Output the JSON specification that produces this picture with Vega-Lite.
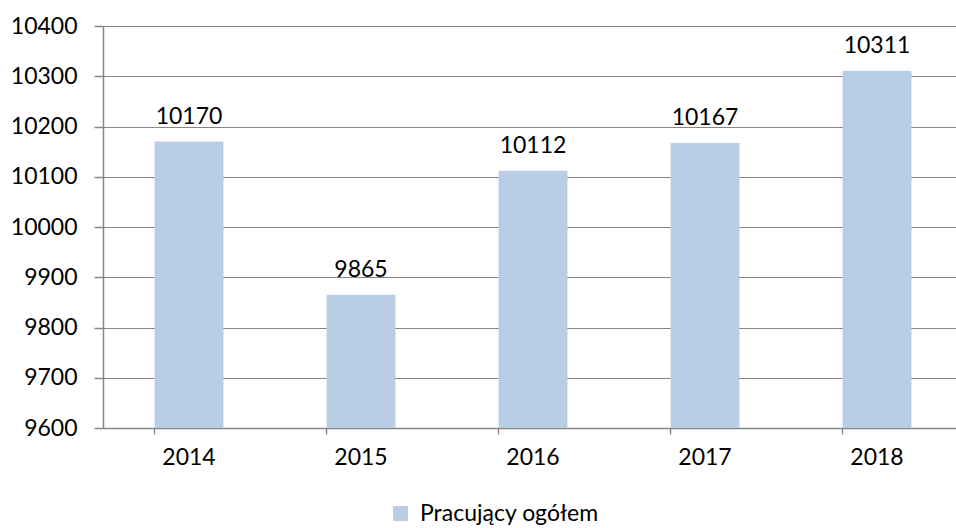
{
  "$schema": "https://vega.github.io/schema/vega-lite/v6.json",
  "width": 860,
  "height": 402,
  "autosize": {"type": "none"},
  "padding": {"left": 103, "top": 26, "right": 0, "bottom": 100},
  "background": "white",
  "config": {
    "view": {"stroke": null},
    "font": "Lato",
    "axis": {"labelFont": "Lato", "labelFontSize": 23, "labelColor": "#000000", "domainColor": "#868686", "tickColor": "#868686", "gridColor": "#868686", "domainWidth": 1.5, "tickWidth": 1.5, "gridWidth": 1.2}
  },
  "data": {
    "values": [
      {"rok": "2014", "wartosc": 10170, "seria": "Pracujący ogółem"},
      {"rok": "2015", "wartosc": 9865, "seria": "Pracujący ogółem"},
      {"rok": "2016", "wartosc": 10112, "seria": "Pracujący ogółem"},
      {"rok": "2017", "wartosc": 10167, "seria": "Pracujący ogółem"},
      {"rok": "2018", "wartosc": 10311, "seria": "Pracujący ogółem"}
    ]
  },
  "encoding": {
    "x": {
      "field": "rok",
      "type": "nominal",
      "scale": {"paddingInner": 0.6, "paddingOuter": 0.3},
      "axis": {"title": null, "labelAngle": 0, "bandPosition": 0, "tickSize": 6, "labelPadding": 12, "grid": false, "ticks": true}
    },
    "y": {
      "field": "wartosc",
      "type": "quantitative",
      "scale": {"domain": [9600, 10400], "nice": false, "zero": false},
      "axis": {"title": null, "values": [9600, 9700, 9800, 9900, 10000, 10100, 10200, 10300, 10400], "tickSize": 9, "labelPadding": 17, "grid": true, "format": "d"}
    }
  },
  "layer": [
    {
      "mark": {"type": "bar", "clip": true},
      "encoding": {
        "y2": {"datum": 9600},
        "color": {
          "field": "seria",
          "type": "nominal",
          "scale": {"range": ["#B9CDE5"]},
          "legend": {"title": null, "orient": "none", "legendX": 286, "legendY": 476, "labelFont": "Lato", "labelFontSize": 23, "labelLimit": 500, "labelColor": "#000000", "symbolType": "square", "symbolSize": 225, "symbolStrokeWidth": 0, "labelOffset": 8}
        }
      }
    },
    {
      "mark": {"type": "text", "font": "Lato", "fontSize": 23, "color": "#000000", "baseline": "alphabetic", "dy": -18},
      "encoding": {"text": {"field": "wartosc", "type": "quantitative", "format": "d"}}
    }
  ]
}
